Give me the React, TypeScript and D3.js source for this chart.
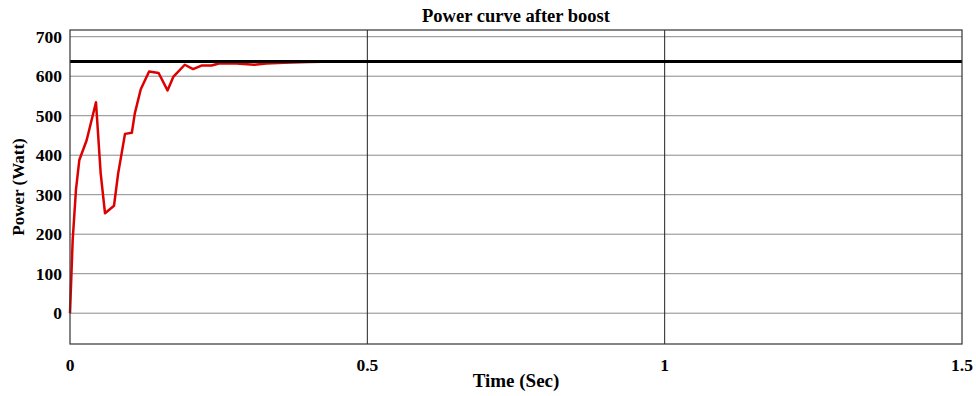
import React, { useRef, useEffect } from 'react';
import * as d3 from 'd3';

// red curve: power after boost (time in sec, power in watt)
const timeValues = [0, 0.0045, 0.010, 0.0157, 0.028, 0.0437, 0.0516, 0.0589, 0.074, 0.081, 0.0925, 0.104, 0.109, 0.119, 0.133, 0.149, 0.164, 0.174, 0.193, 0.207, 0.221, 0.238, 0.252, 0.28, 0.31, 0.33, 0.36, 0.40, 0.45, 1.5];
const powerValues = [0, 185, 312, 388, 438, 534, 354, 253, 272, 354, 454, 457, 506, 567, 612, 608, 564, 599, 629, 618, 627, 627, 633, 632, 629, 632, 634, 636, 637, 637];

// black reference line
const referencePower = 637;

const yTicks = [0, 100, 200, 300, 400, 500, 600, 700];
const xTicks = [0, 0.5, 1, 1.5];

const W = 976;
const H = 396;

const App = () => {
  const svgRef = useRef<SVGSVGElement | null>(null);

  useEffect(() => {
    const svg = d3.select(svgRef.current);
    svg.selectAll('*').remove();

    const margin = { top: 30, right: 14, bottom: 52, left: 70 };
    const innerWidth = W - margin.left - margin.right;
    const innerHeight = H - margin.top - margin.bottom;
    const font = '"Liberation Serif", "Times New Roman", serif';

    const x = d3.scaleLinear().domain([0, 1.5]).range([0, innerWidth]);
    const y = d3.scaleLinear().domain([-78, 717]).range([innerHeight, 0]);

    const g = svg.append('g').attr('transform', `translate(${margin.left},${margin.top})`);

    // horizontal grid
    g.selectAll('.hgrid')
      .data(yTicks)
      .enter()
      .append('line')
      .attr('x1', 0)
      .attr('x2', innerWidth)
      .attr('y1', (d) => y(d))
      .attr('y2', (d) => y(d))
      .attr('stroke', '#8a8a8a')
      .attr('stroke-width', 1);

    // vertical grid
    g.selectAll('.vgrid')
      .data(xTicks.slice(1, -1))
      .enter()
      .append('line')
      .attr('x1', (d) => x(d))
      .attr('x2', (d) => x(d))
      .attr('y1', 0)
      .attr('y2', innerHeight)
      .attr('stroke', '#222')
      .attr('stroke-width', 1);

    const data = timeValues.map((t, i) => [t, powerValues[i]] as [number, number]);
    const line = d3.line<[number, number]>()
      .x((d) => x(d[0]))
      .y((d) => y(d[1]));

    g.append('path')
      .datum(data)
      .attr('d', line)
      .attr('fill', 'none')
      .attr('stroke', '#dd0000')
      .attr('stroke-width', 2.5)
      .attr('stroke-linejoin', 'round');

    g.append('line')
      .attr('x1', 0)
      .attr('x2', innerWidth)
      .attr('y1', y(referencePower))
      .attr('y2', y(referencePower))
      .attr('stroke', '#000')
      .attr('stroke-width', 3);

    // frame
    g.append('rect')
      .attr('x', 0)
      .attr('y', 0)
      .attr('width', innerWidth)
      .attr('height', innerHeight)
      .attr('fill', 'none')
      .attr('stroke', '#333')
      .attr('stroke-width', 1.2);

    // y tick labels
    g.selectAll('.ylab')
      .data(yTicks)
      .enter()
      .append('text')
      .attr('x', -8)
      .attr('y', (d) => y(d))
      .attr('dy', '0.35em')
      .attr('text-anchor', 'end')
      .attr('font-family', font)
      .attr('font-weight', 'bold')
      .attr('font-size', 17.5)
      .text((d) => d);

    // x tick labels
    g.selectAll('.xlab')
      .data(xTicks)
      .enter()
      .append('text')
      .attr('x', (d) => x(d))
      .attr('y', innerHeight + 27)
      .attr('text-anchor', 'middle')
      .attr('font-family', font)
      .attr('font-weight', 'bold')
      .attr('font-size', 17.5)
      .text((d) => d);

    svg.append('text')
      .attr('x', margin.left + innerWidth / 2)
      .attr('y', H - 9)
      .attr('text-anchor', 'middle')
      .attr('font-family', font)
      .attr('font-weight', 'bold')
      .attr('font-size', 19)
      .text('Time (Sec)');

    svg.append('text')
      .attr('transform', `translate(24,${margin.top + innerHeight / 2}) rotate(-90)`)
      .attr('text-anchor', 'middle')
      .attr('font-family', font)
      .attr('font-weight', 'bold')
      .attr('font-size', 17)
      .text('Power (Watt)');

    svg.append('text')
      .attr('x', margin.left + innerWidth / 2)
      .attr('y', 22)
      .attr('text-anchor', 'middle')
      .attr('font-family', font)
      .attr('font-weight', 'bold')
      .attr('font-size', 18.5)
      .text('Power curve after boost');
  }, []);

  return (
    <svg
      ref={svgRef}
      width={W}
      height={H}
      style={{ position: 'absolute', left: 0, top: 0, background: '#fff' }}
    />
  );
};

export default App;
